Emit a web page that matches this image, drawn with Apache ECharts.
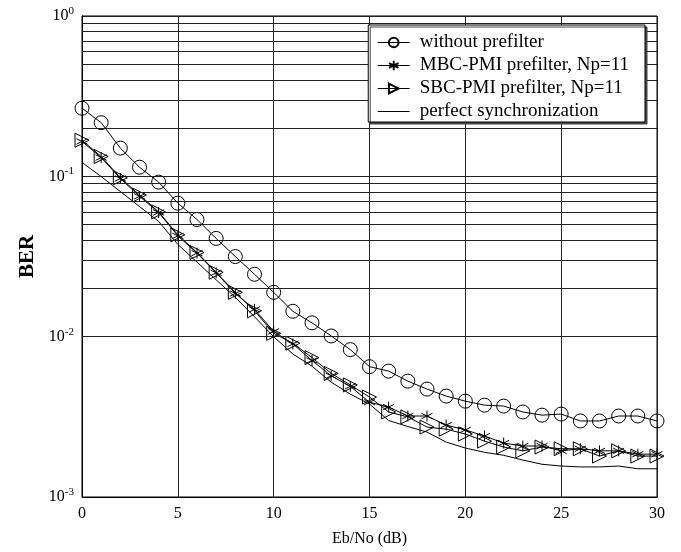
<!DOCTYPE html>
<html>
<head>
<meta charset="utf-8">
<script src="https://cdn.jsdelivr.net/npm/echarts@6/dist/echarts.min.js"></script>
<style>html,body{margin:0;padding:0;background:#fff}#c{width:681px;height:552px}</style>
</head>
<body>
<div id="c"></div>
<script>
var ebno = [0,1,2,3,4,5,6,7,8,9,10,11,12,13,14,15,16,17,18,19,20,21,22,23,24,25,26,27,28,29,30];
var berWithout = [0.266,0.216,0.150,0.114,0.092,0.068,0.0538,0.041,0.0316,0.0245,0.0189,0.0144,0.0122,0.0101,0.0083,0.0065,0.0061,0.00528,0.00471,0.00426,0.00396,0.00374,0.00369,0.00339,0.00324,0.00329,0.00298,0.00298,0.0032,0.0032,0.00298];
var berMBC = [0.165,0.131,0.097,0.075,0.0595,0.0425,0.0332,0.0250,0.0186,0.0148,0.0108,0.0090,0.0071,0.0057,0.0049,0.0039,0.00364,0.0032,0.0032,0.00281,0.00262,0.0024,0.00217,0.00208,0.00208,0.00194,0.0020,0.00194,0.00194,0.00185,0.00185];
var berSBC = [0.168,0.133,0.098,0.0765,0.060,0.0432,0.0335,0.0252,0.0189,0.0145,0.0105,0.0091,0.0074,0.0059,0.0050,0.0042,0.00339,0.00316,0.00273,0.00265,0.00247,0.00223,0.00205,0.00194,0.00205,0.0020,0.0020,0.0018,0.00194,0.0018,0.0018];
var berPerfect = [0.122,0.0997,0.0804,0.0648,0.0523,0.0376,0.0292,0.0226,0.0176,0.0133,0.0100,0.0078,0.00654,0.0052,0.00438,0.0038,0.0030,0.00275,0.00254,0.0022,0.00202,0.0019,0.00182,0.0017,0.0016,0.00156,0.00154,0.00154,0.00156,0.0015,0.0015];
var seriesNames = ['without prefilter','MBC-PMI prefilter, Np=11','SBC-PMI prefilter, Np=11','perfect synchronization'];
var xTicks = [0,5,10,15,20,25,30];
var minorGridValues = [0.9,0.8,0.7,0.6,0.5,0.4,0.3,0.2,0.09,0.08,0.07,0.06,0.05,0.04,0.03,0.02,0.009,0.008,0.007,0.006,0.005,0.004,0.003,0.002];

function pairs(ys){ return ebno.map(function(x,i){ return [x, ys[i]]; }); }

var serif = '"Liberation Serif","DejaVu Serif",serif';
var starPath = 'path://M5,0 L5,10 M0.67,2.5 L9.33,7.5 M0.67,7.5 L9.33,2.5';
var triPath = 'path://M0,0 L10,5 L0,10 Z';
var hollow = {color:'transparent', borderColor:'#000', borderWidth:1};

var chart = echarts.init(document.getElementById('c'));
chart.setOption({
  animation:false,
  backgroundColor:'#fff',
  grid:{left:82, right:24, top:16, bottom:54, show:true, borderColor:'#000', borderWidth:1},
  legend:{
    z:100, right:36, top:25, orient:'vertical', itemWidth:32, itemHeight:12, itemGap:4,
    backgroundColor:'#fff', borderColor:'#000', borderWidth:1, padding:[8,16,1,9],
    shadowColor:'#444', shadowOffsetX:2, shadowOffsetY:2, shadowBlur:0,
    lineStyle:{width:1},
    textStyle:{fontFamily:serif, fontSize:19, lineHeight:19, color:'#000', padding:[0,0,0,5]},
    data:seriesNames
  },
  xAxis:{
    type:'value', min:0, max:30, interval:5,
    name:'Eb/No (dB)', nameLocation:'middle', nameGap:34,
    nameTextStyle:{fontFamily:serif, fontSize:16, color:'#000'},
    axisLine:{show:true, lineStyle:{color:'#000'}},
    axisTick:{show:false},
    axisLabel:{fontFamily:serif, fontSize:16, color:'#000', margin:9},
    splitLine:{show:true, lineStyle:{color:'#222', width:1}}
  },
  yAxis:{
    type:'log', logBase:10, min:0.001, max:1,
    name:'BER', nameLocation:'middle', nameGap:37, nameRotate:90,
    nameTextStyle:{fontFamily:serif, fontSize:21, fontWeight:'bold', color:'#000'},
    axisLine:{show:true, lineStyle:{color:'#000'}},
    axisTick:{show:false},
    axisLabel:{
      margin:8,
      formatter:function(v){ var e = Math.round(Math.log(v)/Math.LN10); return '{b|10}{s|' + e + '}'; },
      rich:{
        b:{fontFamily:serif, fontSize:16, color:'#000'},
        s:{fontFamily:serif, fontSize:11, color:'#000', padding:[0,0,10,0]}
      }
    },
    splitLine:{show:true, lineStyle:{color:'#222', width:1}}
  },
  series:[
    {
      name:seriesNames[0], type:'line', data:pairs(berWithout),
      symbol:'circle', symbolSize:14, showAllSymbol:true,
      lineStyle:{color:'#000', width:1}, itemStyle:hollow,
      markLine:{
        silent:true, symbol:'none', animation:false,
        label:{show:false},
        lineStyle:{color:'#222', width:1, type:'solid'},
        data:minorGridValues.map(function(v){ return {yAxis:v}; })
      }
    },
    {
      name:seriesNames[1], type:'line', data:pairs(berMBC),
      symbol:starPath, symbolSize:11, showAllSymbol:true,
      lineStyle:{color:'#000', width:1}, itemStyle:hollow
    },
    {
      name:seriesNames[2], type:'line', data:pairs(berSBC),
      symbol:triPath, symbolSize:14, showAllSymbol:true,
      lineStyle:{color:'#000', width:1}, itemStyle:hollow
    },
    {
      name:seriesNames[3], type:'line', data:pairs(berPerfect),
      symbol:'none', lineStyle:{color:'#000', width:1},
      itemStyle:{color:'transparent', borderColor:'transparent', borderWidth:0}
    }
  ]
});
</script>
</body>
</html>
